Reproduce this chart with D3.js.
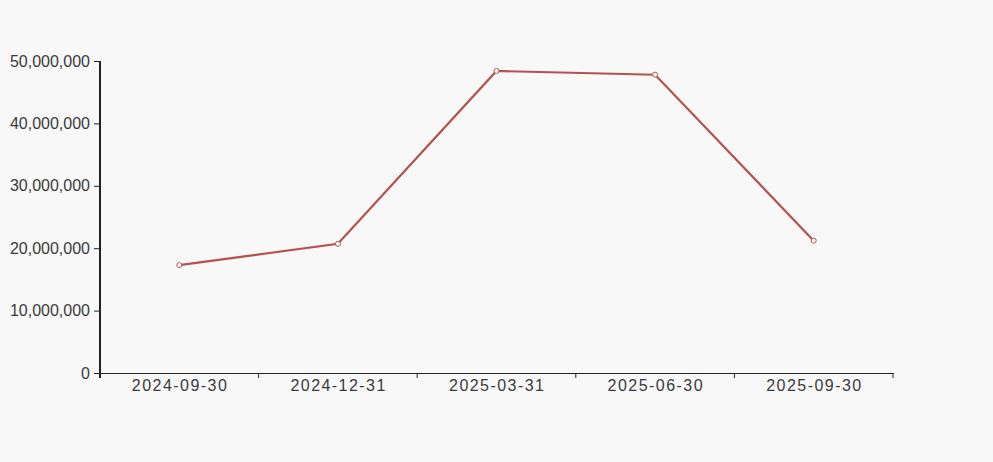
<!DOCTYPE html>
<html>
<head>
<meta charset="utf-8">
<script src="https://cdn.jsdelivr.net/npm/d3@7"></script>
<style>
  html, body { margin: 0; padding: 0; background: #f8f8f8; }
  svg { display: block; }
  .axis text { font-family: "Liberation Sans", Arial, sans-serif; font-size: 16px; fill: #3a3a3a; }
  .axis path, .axis line { stroke: #222; }
</style>
</head>
<body>
<div id="chart"></div>
<script>
const categories = ["2024-09-30", "2024-12-31", "2025-03-31", "2025-06-30", "2025-09-30"];
const values = [17300000, 20700000, 48400000, 47800000, 21200000];
const yTicks = [0, 10000000, 20000000, 30000000, 40000000, 50000000];

const width = 993, height = 462;
const margin = {top: 61, right: 100, bottom: 89, left: 100};
const innerW = width - margin.left - margin.right;
const innerH = height - margin.top - margin.bottom;

const svg = d3.select("#chart")
  .append("svg")
  .attr("width", width)
  .attr("height", height);

const g = svg.append("g")
  .attr("transform", `translate(${margin.left}, ${margin.top})`);

const x = d3.scaleBand().domain(categories).range([0, innerW]);
const y = d3.scaleLinear().domain([0, 50000000]).range([innerH, 0]);

// y axis
const yAxis = g.append("g")
  .attr("class", "axis")
  .call(d3.axisLeft(y).tickValues(yTicks).tickSize(6).tickPadding(4).tickSizeOuter(0).tickFormat(d3.format(",")));
yAxis.select(".domain").attr("stroke-width", 2).attr("d", `M0,0V${innerH + 5}`);

// x axis, ticks at band edges
const xAxis = g.append("g")
  .attr("class", "axis")
  .attr("transform", `translate(0, ${innerH})`)
  .call(d3.axisBottom(x).tickSize(0).tickPadding(7));
xAxis.selectAll(".tick text")
  .attr("dy", "0.71em")
  .attr("textLength", 95)
  .attr("lengthAdjust", "spacing");
xAxis.selectAll(".edge")
  .data(d3.range(categories.length + 1))
  .enter()
  .append("line")
  .attr("class", "edge")
  .attr("x1", (d) => d * x.bandwidth())
  .attr("x2", (d) => d * x.bandwidth())
  .attr("y1", 0)
  .attr("y2", 5)
  .attr("stroke", "#222");

const line = d3.line()
  .x((d, i) => x(categories[i]) + x.bandwidth() / 2)
  .y((d) => y(d));

g.append("path")
  .datum(values)
  .attr("d", line)
  .attr("fill", "none")
  .attr("stroke", "#b5524f")
  .attr("stroke-width", 2.2);

g.selectAll(".dot")
  .data(values)
  .enter()
  .append("circle")
  .attr("class", "dot")
  .attr("cx", (d, i) => x(categories[i]) + x.bandwidth() / 2)
  .attr("cy", (d) => y(d))
  .attr("r", 2.5)
  .attr("fill", "#fff")
  .attr("stroke", "#b5524f")
  .attr("stroke-width", 1);
</script>
</body>
</html>
